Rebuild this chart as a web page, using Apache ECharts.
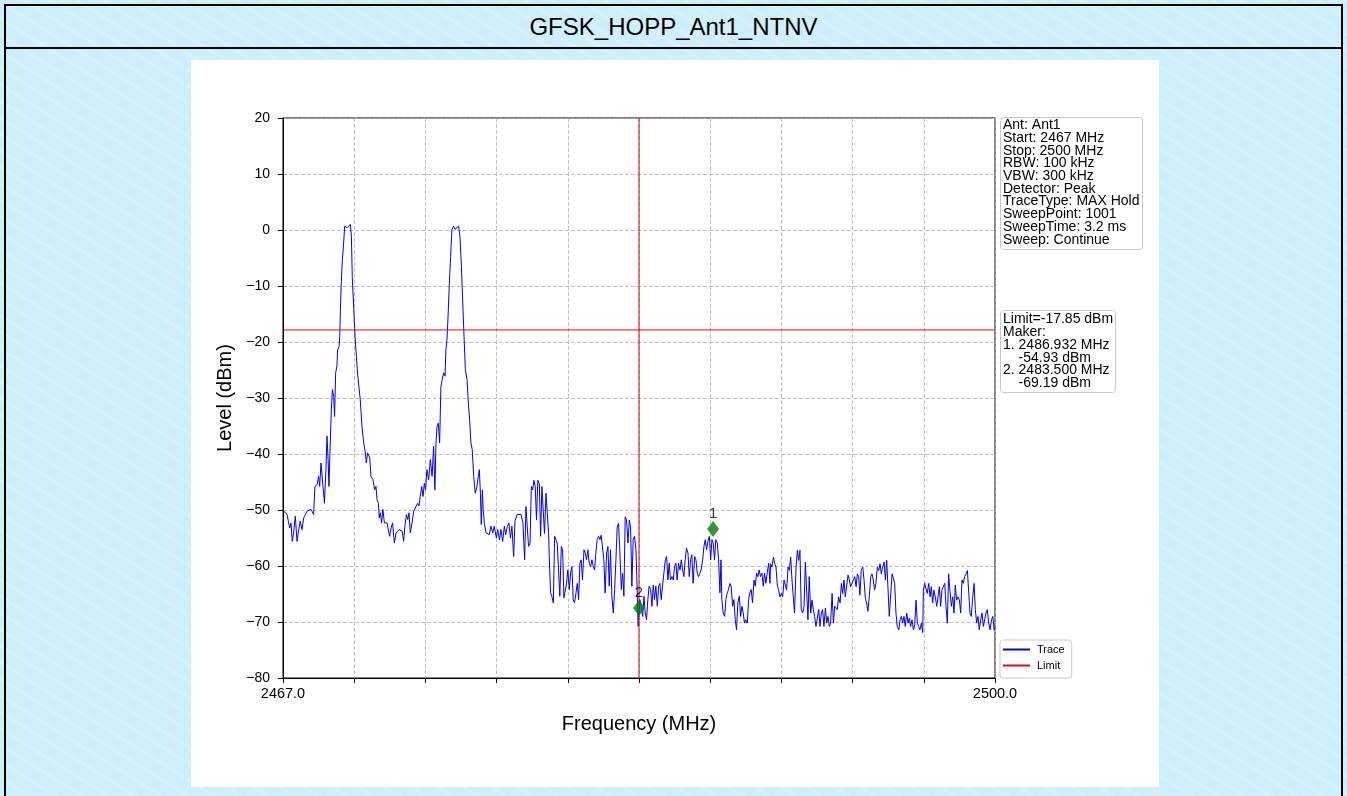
<!DOCTYPE html>
<html>
<head>
<meta charset="utf-8">
<script src="https://cdn.jsdelivr.net/npm/echarts@6/dist/echarts.min.js"></script>
<style>
html,body{margin:0;padding:0;width:1347px;height:796px;overflow:hidden;}
body{background:#cdeefb;font-family:'Liberation Sans',Arial,sans-serif;position:relative;}
.pattern{position:absolute;left:0;top:0;width:1347px;height:796px;
  background-image:repeating-linear-gradient(32deg, rgba(255,255,255,0.16) 0px, rgba(255,255,255,0.16) 3px, rgba(255,255,255,0) 3px, rgba(255,255,255,0) 14px);}
#frame{position:absolute;left:4px;top:4px;width:1335px;height:800px;border:2px solid #000;}
#titleRow{position:absolute;left:0;top:0;width:100%;height:41px;border-bottom:2px solid #000;text-align:center;line-height:42px;font-size:24px;color:#000;}
#paper{position:absolute;left:191px;top:60px;width:968px;height:727px;background:#fff;}
#chart{position:absolute;left:0;top:0;width:1347px;height:796px;}
</style>
</head>
<body>
<div class="pattern"></div>
<div id="frame"><div id="titleRow">GFSK_HOPP_Ant1_NTNV</div></div>
<div id="paper"></div>
<div id="chart"></div>
<script>
// ---------- data ----------
const tracePoints = [
[2467.00,-49.8],[2467.03,-50.2],[2467.19,-50.8],[2467.26,-52.3],[2467.31,-53.2],[2467.37,-52.3],[2467.43,-55.6],[2467.49,-54.1],[2467.57,-51.1],[2467.65,-55.6],
[2467.73,-53.5],[2467.80,-52.0],[2467.88,-53.5],[2467.96,-51.4],[2468.04,-50.8],[2468.11,-50.2],[2468.19,-50.5],[2468.30,-49.9],[2468.42,-50.8],[2468.48,-45.8],
[2468.58,-45.5],[2468.65,-44.0],[2468.70,-45.8],[2468.76,-41.6],[2468.85,-41.3],[2468.92,-48.8],[2468.99,-42.8],[2469.04,-36.8],[2469.09,-41.0],[2469.13,-45.8],
[2469.19,-38.0],[2469.24,-32.1],[2469.29,-28.5],[2469.35,-29.7],[2469.39,-33.3],[2469.44,-25.5],[2469.50,-24.3],[2469.53,-21.4],[2469.60,-20.8],[2469.63,-19.0],
[2469.66,-14.2],[2469.70,-9.5],[2469.75,-5.3],[2469.81,-2.3],[2469.86,0.7],[2469.92,1.0],[2469.97,0.4],[2470.04,0.4],[2470.12,1.0],[2470.17,-1.1],
[2470.21,-8.3],[2470.28,-14.2],[2470.34,-19.0],[2470.40,-22.6],[2470.46,-25.8],[2470.52,-26.1],[2470.58,-30.3],[2470.66,-35.1],[2470.74,-38.0],[2470.82,-39.8],
[2470.86,-41.6],[2470.92,-39.8],[2471.02,-40.7],[2471.08,-44.0],[2471.17,-44.6],[2471.25,-46.4],[2471.31,-45.8],[2471.36,-48.2],[2471.42,-48.8],[2471.46,-51.4],
[2471.51,-50.5],[2471.57,-52.3],[2471.63,-49.9],[2471.70,-52.3],[2471.76,-52.6],[2471.82,-52.3],[2471.88,-52.3],[2471.94,-54.7],[2472.01,-53.2],[2472.08,-52.3],
[2472.16,-55.9],[2472.24,-54.1],[2472.31,-53.8],[2472.38,-53.5],[2472.47,-53.8],[2472.53,-53.8],[2472.59,-55.6],[2472.65,-52.9],[2472.72,-50.8],[2472.78,-51.7],
[2472.84,-50.5],[2472.90,-54.1],[2472.98,-52.3],[2473.06,-50.2],[2473.15,-50.5],[2473.24,-48.8],[2473.30,-49.3],[2473.36,-47.6],[2473.43,-45.8],[2473.49,-47.6],
[2473.55,-45.2],[2473.61,-46.4],[2473.67,-42.8],[2473.75,-44.6],[2473.83,-41.0],[2473.91,-44.0],[2473.98,-38.6],[2474.04,-46.4],[2474.09,-38.0],[2474.14,-35.1],
[2474.20,-34.5],[2474.26,-38.0],[2474.32,-27.9],[2474.38,-26.7],[2474.45,-25.5],[2474.51,-26.1],[2474.55,-21.4],[2474.60,-19.6],[2474.65,-15.4],[2474.71,-9.5],
[2474.77,-4.7],[2474.83,0.1],[2474.91,0.7],[2474.97,0.1],[2475.06,0.4],[2475.14,0.7],[2475.20,-1.1],[2475.27,-6.5],[2475.33,-13.0],[2475.39,-19.0],
[2475.45,-24.9],[2475.53,-26.7],[2475.59,-30.9],[2475.65,-33.9],[2475.71,-38.0],[2475.77,-39.2],[2475.84,-44.0],[2475.91,-47.0],[2475.99,-45.8],[2476.05,-44.0],
[2476.10,-42.8],[2476.15,-47.0],[2476.19,-52.6],[2476.24,-46.4],[2476.28,-49.9],[2476.33,-52.3],[2476.41,-54.1],[2476.49,-53.8],[2476.56,-54.4],[2476.64,-52.9],
[2476.72,-54.1],[2476.79,-52.9],[2476.89,-55.0],[2476.95,-53.5],[2477.03,-55.3],[2477.10,-53.5],[2477.18,-55.6],[2477.26,-52.9],[2477.32,-54.4],[2477.40,-52.9],
[2477.47,-52.3],[2477.54,-55.0],[2477.61,-52.9],[2477.69,-58.3],[2477.75,-52.0],[2477.85,-50.8],[2477.94,-50.5],[2478.03,-50.8],[2478.12,-52.3],
[2478.20,-58.9],[2478.26,-49.4],[2478.32,-49.1],[2478.38,-56.5],[2478.45,-55.9],[2478.51,-45.8],[2478.57,-46.4],[2478.63,-44.7],[2478.69,-45.8],[2478.75,-51.8],
[2478.81,-44.7],[2478.88,-45.3],[2478.94,-54.7],[2479.00,-45.8],[2479.06,-45.5],[2479.12,-54.2],[2479.19,-47.0],[2479.25,-50.6],[2479.31,-54.2],[2479.34,-58.3],
[2479.40,-64.8],[2479.46,-65.4],[2479.53,-66.6],[2479.59,-54.7],[2479.65,-55.3],[2479.71,-55.9],[2479.77,-60.7],[2479.83,-65.4],[2479.90,-56.5],[2479.96,-57.1],
[2480.02,-65.7],[2480.08,-65.4],[2480.14,-63.1],[2480.20,-60.7],[2480.27,-64.2],[2480.33,-61.3],[2480.39,-60.1],[2480.45,-66.0],[2480.51,-66.6],[2480.58,-64.8],
[2480.64,-63.1],[2480.70,-66.0],[2480.76,-59.5],[2480.82,-58.9],[2480.88,-62.5],[2480.95,-57.1],[2481.01,-57.7],[2481.07,-58.9],[2481.13,-57.1],[2481.19,-59.5],
[2481.26,-60.1],[2481.32,-58.9],[2481.38,-60.1],[2481.44,-60.7],[2481.50,-57.7],[2481.56,-55.3],[2481.63,-54.7],[2481.69,-55.3],[2481.75,-54.5],[2481.81,-54.7],
[2481.87,-58.9],[2481.93,-64.8],[2482.00,-57.7],[2482.06,-56.5],[2482.12,-63.6],[2482.18,-57.1],[2482.24,-65.4],[2482.31,-68.4],[2482.37,-64.2],[2482.43,-58.9],
[2482.49,-53.0],[2482.55,-52.4],[2482.61,-57.1],[2482.68,-64.2],[2482.74,-61.3],[2482.80,-65.4],[2482.86,-51.2],[2482.92,-51.8],[2482.99,-55.9],[2483.05,-51.8],
[2483.11,-53.0],[2483.17,-63.6],[2483.23,-55.3],[2483.29,-54.7],[2483.36,-57.1],[2483.42,-64.8],[2483.46,-70.8],[2483.54,-66.0],[2483.60,-67.2],[2483.67,-69.0],
[2483.73,-65.4],[2483.79,-68.4],[2483.85,-69.6],[2483.91,-66.0],[2483.97,-63.6],[2484.04,-64.2],[2484.10,-67.2],[2484.16,-63.4],[2484.22,-66.0],[2484.28,-63.6],
[2484.35,-67.2],[2484.41,-63.6],[2484.47,-63.1],[2484.53,-66.0],[2484.59,-63.6],[2484.65,-63.6],[2484.72,-58.9],[2484.78,-58.3],[2484.84,-62.5],[2484.90,-59.5],
[2484.96,-62.5],[2485.03,-61.9],[2485.09,-62.5],[2485.15,-60.1],[2485.21,-59.5],[2485.27,-62.5],[2485.33,-59.5],[2485.40,-60.7],[2485.46,-58.9],[2485.52,-60.7],
[2485.58,-61.9],[2485.64,-58.9],[2485.70,-56.8],[2485.77,-57.7],[2485.83,-61.9],[2485.89,-58.9],[2485.95,-58.0],[2486.01,-63.1],[2486.08,-58.3],[2486.14,-58.9],
[2486.20,-61.3],[2486.26,-61.9],[2486.32,-61.3],[2486.38,-60.7],[2486.45,-58.9],[2486.51,-56.5],[2486.57,-55.3],[2486.63,-57.1],[2486.69,-55.6],[2486.76,-54.7],
[2486.82,-58.9],[2486.88,-55.3],[2486.94,-55.9],[2487.00,-58.9],[2487.06,-55.3],[2487.13,-55.9],[2487.19,-58.9],[2487.25,-64.8],[2487.30,-58.9],[2487.34,-66.0],
[2487.40,-68.4],[2487.47,-69.0],[2487.53,-66.0],[2487.59,-64.8],[2487.65,-64.2],[2487.71,-63.1],[2487.77,-63.6],[2487.84,-67.2],[2487.90,-66.0],[2487.96,-69.6],
[2488.02,-71.4],[2488.08,-66.6],[2488.15,-65.4],[2488.21,-69.0],[2488.27,-67.2],[2488.33,-68.4],[2488.39,-70.2],[2488.45,-69.6],[2488.52,-70.2],[2488.58,-66.0],
[2488.64,-64.8],[2488.70,-64.2],[2488.76,-66.6],[2488.83,-62.5],[2488.89,-63.6],[2488.95,-61.3],[2489.01,-61.9],[2489.07,-60.7],[2489.13,-61.9],[2489.20,-61.3],
[2489.26,-63.6],[2489.32,-61.3],[2489.38,-63.1],[2489.44,-61.3],[2489.51,-59.5],[2489.57,-63.1],
[2489.60,-59.6],[2489.66,-60.2],[2489.73,-58.4],[2489.79,-59.6],[2489.85,-60.2],[2489.91,-63.4],[2489.97,-64.3],[2490.03,-65.5],[2490.10,-64.9],[2490.16,-65.5],
[2490.22,-62.5],[2490.28,-62.5],[2490.34,-64.3],[2490.41,-60.2],[2490.47,-60.8],[2490.53,-58.4],[2490.59,-62.5],[2490.65,-65.5],[2490.71,-68.4],[2490.78,-60.2],
[2490.84,-57.2],[2490.90,-59.0],[2490.96,-57.2],[2491.02,-67.8],[2491.09,-68.4],[2491.15,-67.2],[2491.21,-59.3],[2491.27,-59.6],[2491.33,-69.6],[2491.39,-61.9],
[2491.46,-68.4],[2491.52,-66.1],[2491.58,-67.8],[2491.64,-69.0],[2491.70,-70.8],[2491.77,-71.1],[2491.83,-67.8],[2491.89,-70.8],[2491.95,-68.4],[2492.01,-67.8],
[2492.07,-70.8],[2492.14,-67.5],[2492.20,-70.2],[2492.26,-69.0],[2492.32,-70.8],[2492.38,-70.2],[2492.45,-64.9],[2492.51,-70.2],[2492.57,-67.2],[2492.63,-67.2],
[2492.69,-67.8],[2492.75,-65.5],[2492.82,-66.6],[2492.88,-63.1],[2492.94,-64.9],[2493.00,-62.5],[2493.06,-65.5],[2493.13,-65.5],[2493.19,-61.6],[2493.25,-62.5],
[2493.31,-63.7],[2493.37,-63.1],[2493.43,-63.4],[2493.50,-61.9],[2493.56,-63.7],[2493.62,-61.4],[2493.68,-61.9],[2493.74,-65.2],[2493.80,-60.8],[2493.87,-60.2],
[2493.93,-62.5],[2493.99,-65.8],[2494.05,-66.6],[2494.11,-68.1],[2494.18,-65.2],[2494.24,-61.9],[2494.30,-61.4],[2494.36,-62.5],[2494.42,-64.3],[2494.48,-63.1],
[2494.55,-60.2],[2494.61,-60.8],[2494.67,-59.6],[2494.73,-61.4],[2494.79,-60.2],[2494.86,-59.3],[2494.92,-62.5],[2494.98,-59.0],[2495.04,-59.3],[2495.10,-69.0],
[2495.16,-69.3],[2495.23,-61.4],[2495.29,-61.1],[2495.35,-63.1],[2495.41,-68.4],[2495.47,-70.8],[2495.54,-71.4],[2495.60,-69.6],[2495.66,-69.0],[2495.72,-70.2],
[2495.78,-69.0],[2495.84,-70.8],[2495.91,-68.4],[2495.97,-70.2],[2496.03,-69.3],[2496.09,-70.8],[2496.15,-69.6],[2496.22,-71.4],[2496.28,-70.5],[2496.34,-66.1],
[2496.40,-70.2],[2496.46,-70.8],[2496.52,-71.4],[2496.59,-70.2],[2496.65,-71.9],[2496.68,-64.3],[2496.74,-63.1],[2496.80,-62.8],[2496.86,-64.9],[2496.93,-63.1],
[2496.99,-65.5],[2497.05,-63.7],[2497.11,-66.6],[2497.17,-64.3],[2497.23,-65.5],[2497.30,-67.2],[2497.36,-65.5],[2497.42,-63.7],[2497.48,-67.2],[2497.54,-64.3],
[2497.61,-64.0],[2497.67,-63.1],[2497.73,-67.2],[2497.79,-70.2],[2497.85,-61.4],[2497.91,-64.3],[2497.98,-67.2],[2498.04,-65.5],[2498.10,-68.4],[2498.16,-63.4],
[2498.22,-66.1],[2498.29,-65.5],[2498.35,-66.1],[2498.41,-68.4],[2498.47,-62.5],[2498.53,-63.1],[2498.59,-61.9],[2498.66,-61.4],[2498.72,-60.8],[2498.78,-61.1],
[2498.84,-68.4],[2498.90,-69.0],[2498.97,-65.5],[2499.03,-63.1],[2499.09,-67.8],[2499.15,-70.2],[2499.21,-69.0],[2499.27,-71.4],[2499.34,-69.6],[2499.40,-68.4],
[2499.46,-70.8],[2499.52,-69.6],[2499.58,-68.4],[2499.64,-67.8],[2499.71,-70.2],[2499.77,-71.4],[2499.84,-69.6],[2499.90,-69.0],[2499.96,-71.4],[2500.00,-71.0]
];
const limitLevel = -17.85;
const limitFreqs = [2467.0, 2500.0];
const bandEdgeFreq = 2483.5;
const bandEdgeLevels = [-80, 20];
const markerNames = ['1', '2'];
const markerFreqs = [2486.932, 2483.5];
const markerLevels = [-53.4, -67.5];
const xTicks = [2467.0, 2470.3, 2473.6, 2476.9, 2480.2, 2483.5, 2486.8, 2490.1, 2493.4, 2496.7, 2500.0];
const xLabels = [2467.0, 2500.0];
const yTicksMin = -80, yTicksMax = 20, yTicksStep = 10;
const infoLines = ['Ant: Ant1','Start: 2467 MHz','Stop: 2500 MHz','RBW: 100 kHz','VBW: 300 kHz','Detector: Peak','TraceType: MAX Hold','SweepPoint: 1001','SweepTime: 3.2 ms','Sweep: Continue'];
const markerInfoLines = ['Limit=-17.85 dBm','Maker:','1. 2486.932 MHz','    -54.93 dBm','2. 2483.500 MHz','    -69.19 dBm'];
const legendNames = ['Trace', 'Limit'];

// ---------- chart ----------
const FONT = "'Liberation Sans', Arial, Helvetica, sans-serif";
const chart = echarts.init(document.getElementById('chart'), null, {renderer: 'canvas'});
const boxStyle = {backgroundColor: '#fff', borderColor: '#c8c8c8', borderWidth: 1, borderRadius: 3};
const option = {
  backgroundColor: 'transparent',
  animation: false,
  textStyle: {fontFamily: FONT},
  title: [
    Object.assign({text: infoLines.join('\n'), left: 1000, top: 118, padding: [1, 3, 3, 3],
      textStyle: {fontSize: 14, lineHeight: 12.7, fontWeight: 'normal', color: '#000', fontFamily: FONT}}, boxStyle),
    Object.assign({text: markerInfoLines.join('\n'), left: 1000, top: 311, padding: [2, 3, 2, 3],
      textStyle: {fontSize: 14, lineHeight: 12.8, fontWeight: 'normal', color: '#000', fontFamily: FONT}}, boxStyle)
  ],
  legend: Object.assign({
    data: legendNames.map(n => ({name: n, icon: 'rect'})), orient: 'vertical', left: 1000, top: 640,
    itemWidth: 27, itemHeight: 2, itemGap: 5, padding: [4, 7, 7, 3],
    textStyle: {fontSize: 11, color: '#000', fontFamily: FONT, padding: [0, 0, 0, 2]}
  }, boxStyle),
  grid: {left: 283, top: 118, width: 712, height: 560, show: true, borderColor: '#000', borderWidth: 1, backgroundColor: '#fff', containLabel: false},
  xAxis: {
    type: 'value', min: xTicks[0], max: xTicks[xTicks.length - 1],
    name: 'Frequency (MHz)', nameLocation: 'middle', nameGap: 36,
    nameTextStyle: {fontSize: 20, color: '#000', fontFamily: FONT},
    axisLine: {show: true, onZero: false, lineStyle: {color: '#000', width: 1}},
    axisTick: {show: true, customValues: xTicks, length: 5, lineStyle: {color: '#000'}},
    axisLabel: {customValues: xLabels, formatter: v => Number(v).toFixed(1), fontSize: 14.5, color: '#000', margin: 8, fontFamily: FONT},
    splitLine: {show: true, lineStyle: {color: '#b0b0b0', type: [4, 2], width: 0.8}}
  },
  yAxis: {
    type: 'value', min: yTicksMin, max: yTicksMax, interval: yTicksStep,
    name: 'Level (dBm)', nameLocation: 'middle', nameGap: 45,
    nameTextStyle: {fontSize: 20, color: '#000', fontFamily: FONT},
    axisLine: {show: true, onZero: false, lineStyle: {color: '#000', width: 1}},
    axisTick: {show: true, length: 5, lineStyle: {color: '#000'}},
    axisLabel: {formatter: v => String(v).replace('-', '\u2212'), fontSize: 14, color: '#000', margin: 13, fontFamily: FONT},
    splitLine: {show: true, lineStyle: {color: '#b0b0b0', type: [4, 2], width: 0.8}}
  },
  series: [
    {
      name: legendNames[0], type: 'line', data: tracePoints, symbol: 'none', showSymbol: false,
      lineStyle: {color: '#0000ff', width: 1}, itemStyle: {color: '#0000ff'}, z: 3
    },
    {
      name: legendNames[1], type: 'line', data: limitFreqs.map(f => [f, limitLevel]), symbol: 'none', showSymbol: false,
      lineStyle: {color: '#ff0000', width: 1}, itemStyle: {color: '#ff0000'}, z: 4
    },
    {
      name: 'BandEdge', type: 'line', data: bandEdgeLevels.map(l => [bandEdgeFreq, l]), symbol: 'none', showSymbol: false,
      lineStyle: {color: '#e00000', width: 1}, itemStyle: {color: '#e00000'}, z: 4, silent: true
    },
    {
      name: 'Marker', type: 'scatter', z: 6,
      data: markerNames.map((n, i) => ({name: n, value: [markerFreqs[i], markerLevels[i]]})),
      symbol: 'diamond', symbolSize: [12, 16], itemStyle: {color: '#008000'},
      label: {show: true, position: 'top', distance: 0, formatter: '{b}', fontSize: 15, color: '#000', fontFamily: FONT}
    }
  ]
};
chart.setOption(option);
</script>
</body>
</html>
